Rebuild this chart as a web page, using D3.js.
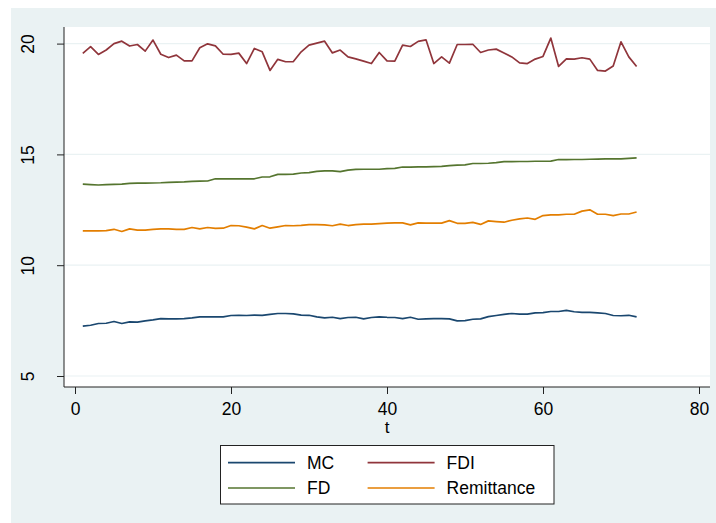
<!DOCTYPE html>
<html>
    <head>
        <style>
            body { margin: 0; background: #fff; }
            text { font-family: "Liberation Sans", Arial, sans-serif; fill: #000; }
        </style>
    </head>
    <body>
        <svg id="chart" width="716" height="523"></svg>

        <script src="https://d3js.org/d3.v7.min.js"></script>
        <script>
            // values, t = 1..72
            const t = d3.range(1, 73);
            const MC = [7.25, 7.29, 7.37, 7.38, 7.46, 7.37, 7.44, 7.43, 7.49, 7.53,
                        7.59, 7.58, 7.58, 7.59, 7.62, 7.67, 7.67, 7.67, 7.67, 7.73,
                        7.74, 7.73, 7.75, 7.74, 7.78, 7.82, 7.82, 7.80, 7.75, 7.74,
                        7.67, 7.62, 7.65, 7.59, 7.64, 7.65, 7.58, 7.64, 7.67, 7.65,
                        7.64, 7.59, 7.65, 7.56, 7.58, 7.59, 7.59, 7.58, 7.49, 7.50,
                        7.56, 7.58, 7.68, 7.73, 7.78, 7.82, 7.79, 7.79, 7.85, 7.86,
                        7.91, 7.91, 7.96, 7.90, 7.87, 7.87, 7.85, 7.82, 7.73, 7.72,
                        7.74, 7.67];
            const FDI = [19.56, 19.86, 19.51, 19.71, 20.00, 20.11, 19.89, 19.96, 19.66, 20.16,
                         19.52, 19.37, 19.48, 19.22, 19.22, 19.81, 19.99, 19.90, 19.52, 19.51,
                         19.57, 19.10, 19.78, 19.63, 18.79, 19.29, 19.18, 19.19, 19.63, 19.93,
                         20.02, 20.11, 19.58, 19.71, 19.40, 19.31, 19.21, 19.10, 19.60, 19.22,
                         19.21, 19.93, 19.87, 20.10, 20.17, 19.10, 19.40, 19.12, 19.96, 19.96,
                         19.97, 19.60, 19.71, 19.75, 19.58, 19.40, 19.13, 19.10, 19.30, 19.42,
                         20.25, 18.97, 19.31, 19.30, 19.36, 19.30, 18.79, 18.76, 18.99, 20.08,
                         19.40, 18.97];
            const FD = [13.66, 13.64, 13.62, 13.64, 13.65, 13.66, 13.69, 13.70, 13.70, 13.71,
                        13.72, 13.74, 13.75, 13.76, 13.78, 13.79, 13.80, 13.90, 13.90, 13.90,
                        13.90, 13.90, 13.90, 13.98, 13.99, 14.10, 14.10, 14.11, 14.16, 14.18,
                        14.23, 14.26, 14.26, 14.22, 14.29, 14.32, 14.33, 14.33, 14.33, 14.36,
                        14.37, 14.43, 14.43, 14.44, 14.44, 14.45, 14.46, 14.49, 14.52, 14.53,
                        14.59, 14.59, 14.60, 14.63, 14.67, 14.67, 14.68, 14.68, 14.69, 14.69,
                        14.70, 14.77, 14.76, 14.77, 14.77, 14.78, 14.79, 14.80, 14.80, 14.80,
                        14.82, 14.84];
            const Remittance = [11.55, 11.55, 11.55, 11.56, 11.62, 11.52, 11.64, 11.58, 11.58, 11.62,
                                11.64, 11.64, 11.62, 11.62, 11.70, 11.64, 11.70, 11.66, 11.67, 11.79,
                                11.78, 11.72, 11.64, 11.79, 11.67, 11.73, 11.79, 11.78, 11.80, 11.83,
                                11.83, 11.82, 11.78, 11.85, 11.79, 11.83, 11.85, 11.85, 11.88, 11.90,
                                11.91, 11.91, 11.82, 11.91, 11.90, 11.90, 11.90, 12.01, 11.89, 11.89,
                                11.93, 11.84, 12.00, 11.97, 11.94, 12.03, 12.09, 12.13, 12.07, 12.24,
                                12.27, 12.27, 12.30, 12.30, 12.44, 12.50, 12.30, 12.30, 12.24, 12.31,
                                12.31, 12.40];

            const xTicks = [0, 20, 40, 60, 80];
            const yTicks = [5, 10, 15, 20];

            const series = [
                {name: "MC", values: MC, color: "#1a476f"},
                {name: "FDI", values: FDI, color: "#90353b"},
                {name: "FD", values: FD, color: "#55752f"},
                {name: "Remittance", values: Remittance, color: "#e37e00"}
            ];

            const svg = d3.select("#chart");
            const bg = "#eaf2f3";

            // graph region and plot region
            svg.append("rect").attr("x", 11).attr("y", 8).attr("width", 705).attr("height", 515).attr("fill", bg);
            const plot = {left: 64, top: 27, right: 710, bottom: 387};
            svg.append("rect")
                .attr("x", plot.left).attr("y", plot.top)
                .attr("width", plot.right - plot.left).attr("height", plot.bottom - plot.top)
                .attr("fill", "#fff");

            const x = d3.scaleLinear().domain([0, 80]).range([75, 699]);
            const y = d3.scaleLinear().domain([5, 20]).range([376, 43.6]);

            // gridlines
            svg.append("g")
                .selectAll("line")
                .data(yTicks)
                .join("line")
                    .attr("x1", plot.left).attr("x2", plot.right)
                    .attr("y1", d => y(d)).attr("y2", d => y(d))
                    .attr("stroke", bg)
                    .attr("stroke-width", 1.2);

            // axes
            const xAxis = svg.append("g")
                .attr("transform", `translate(0,${plot.bottom})`)
                .call(d3.axisBottom(x).tickValues(xTicks).tickSize(7).tickPadding(8.6).tickSizeOuter(0));
            xAxis.select(".domain").attr("d", `M${plot.left},0H${plot.right}`);
            xAxis.selectAll("text").attr("font-size", 17.5).attr("font-family", "Liberation Sans, Arial, sans-serif");

            const yAxis = svg.append("g")
                .attr("transform", `translate(${plot.left},0)`)
                .call(d3.axisLeft(y).tickValues(yTicks).tickSize(7).tickSizeOuter(0));
            yAxis.select(".domain").attr("d", `M0,${plot.top}V${plot.bottom}`);
            yAxis.selectAll(".tick text")
                .attr("font-size", 17.5)
                .attr("font-family", "Liberation Sans, Arial, sans-serif")
                .attr("text-anchor", "middle")
                .attr("transform", "rotate(-90)")
                .attr("x", 0)
                .attr("y", -30)
                .attr("dy", 0);

            svg.selectAll(".domain, .tick line").attr("stroke", "#222");

            // axis title, nudged so it clears the tick label above
            svg.append("text")
                .attr("x", 387).attr("y", 433)
                .attr("text-anchor", "middle")
                .attr("font-size", 17)
                .text("t");

            // lines
            const line = d3.line()
                .x((d, i) => x(t[i]))
                .y(d => y(d));

            svg.append("g")
                .attr("fill", "none")
                .selectAll("path")
                .data(series)
                .join("path")
                    .attr("stroke", d => d.color)
                    .attr("stroke-width", 1.7)
                    .attr("stroke-linejoin", "round")
                    .attr("d", d => line(d.values));

            // legend
            const legend = svg.append("g");
            legend.append("rect")
                .attr("x", 220.5).attr("y", 445.5)
                .attr("width", 333.5).attr("height", 58.5)
                .attr("fill", "#fff")
                .attr("stroke", "#222")
                .attr("stroke-width", 1);

            const cols = [228, 367.6];
            const rows = [462.7, 488];
            const item = legend.selectAll("g.item")
                .data(series)
                .join("g")
                    .attr("class", "item")
                    .attr("transform", (d, i) => `translate(${cols[i % 2]},${rows[Math.floor(i / 2)]})`);
            item.append("line")
                .attr("x1", 0).attr("x2", 67)
                .attr("stroke", d => d.color)
                .attr("stroke-width", 1.7);
            item.append("text")
                .attr("x", 79)
                .attr("dy", "0.36em")
                .attr("font-size", 17.5)
                .text(d => d.name);
        </script>
    </body>
</html>
